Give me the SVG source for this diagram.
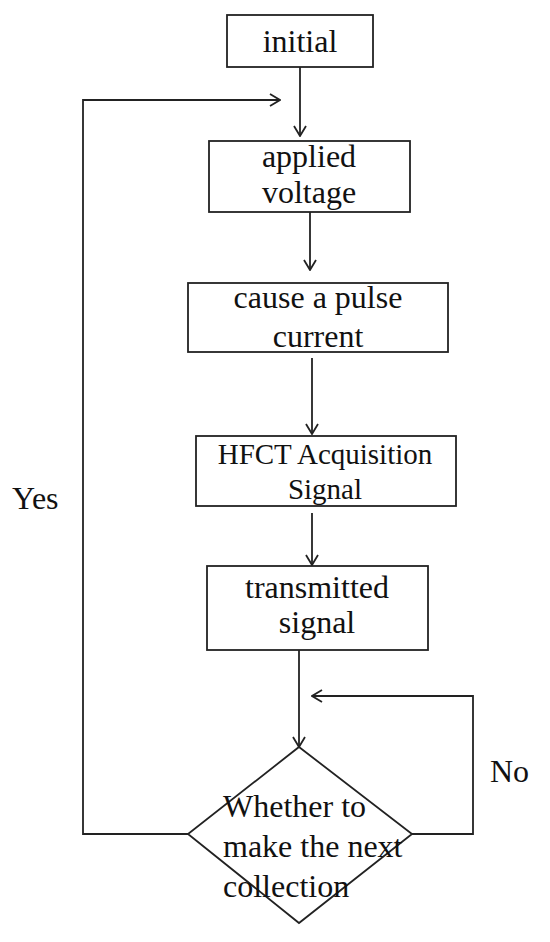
<svg xmlns="http://www.w3.org/2000/svg" width="550" height="942" viewBox="0 0 550 942">
<style>
.box{fill:#fff;stroke:#222;stroke-width:1.8}
.ln{fill:none;stroke:#222;stroke-width:1.8}
.t{font-family:"Liberation Serif","Times New Roman",serif;font-size:32px;fill:#111;text-anchor:middle}
.s{font-size:29px}
</style>
<defs>
<marker id="arr" viewBox="0 0 12 14" refX="11" refY="7" markerWidth="12" markerHeight="14" markerUnits="userSpaceOnUse" orient="auto">
<polyline points="1,1 11,7 1,13" fill="none" stroke="#222" stroke-width="1.8"/>
</marker>
</defs>
<g id="connectors">
<line class="ln" x1="300" y1="67" x2="300" y2="136" marker-end="url(#arr)"/>
<line class="ln" x1="310" y1="212" x2="310" y2="270" marker-end="url(#arr)"/>
<line class="ln" x1="312" y1="358" x2="312" y2="434" marker-end="url(#arr)"/>
<line class="ln" x1="312" y1="513" x2="312" y2="565" marker-end="url(#arr)"/>
<line class="ln" x1="299" y1="650" x2="299" y2="747" marker-end="url(#arr)"/>
<polyline class="ln" points="188,834 83,834 83,100 280,100" marker-end="url(#arr)"/>
<polyline class="ln" points="412,834 473,834 473,696 312,696" marker-end="url(#arr)"/>
</g>
<g id="initial">
<rect class="box" x="227" y="15" width="146" height="52"/>
<text class="t" x="300" y="52">initial</text>
</g>
<g id="applied-voltage">
<rect class="box" x="209" y="141" width="201" height="71"/>
<text class="t" x="309" y="167">applied</text>
<text class="t" x="309" y="203">voltage</text>
</g>
<g id="pulse-current">
<rect class="box" x="188" y="283" width="260" height="69"/>
<text class="t" x="318" y="308">cause a pulse</text>
<text class="t" x="318" y="347">current</text>
</g>
<g id="hfct">
<rect class="box" x="196" y="436" width="260" height="70"/>
<text class="t s" x="325" y="464">HFCT Acquisition</text>
<text class="t s" x="325" y="499">Signal</text>
</g>
<g id="transmitted">
<rect class="box" x="207" y="566" width="221" height="84"/>
<text class="t" x="317" y="598">transmitted</text>
<text class="t" x="317" y="633">signal</text>
</g>
<g id="decision">
<polygon class="box" style="fill:none" points="299,747 412,834 299,923 188,834"/>
<text class="t" style="text-anchor:start" x="223" y="817">Whether to</text>
<text class="t" style="text-anchor:start" x="223" y="857">make the next</text>
<text class="t" style="text-anchor:start" x="223" y="897">collection</text>
</g>
<g id="labels">
<text class="t" style="text-anchor:start" x="12" y="509">Yes</text>
<text class="t" style="text-anchor:start" x="490" y="782">No</text>
</g>
</svg>
